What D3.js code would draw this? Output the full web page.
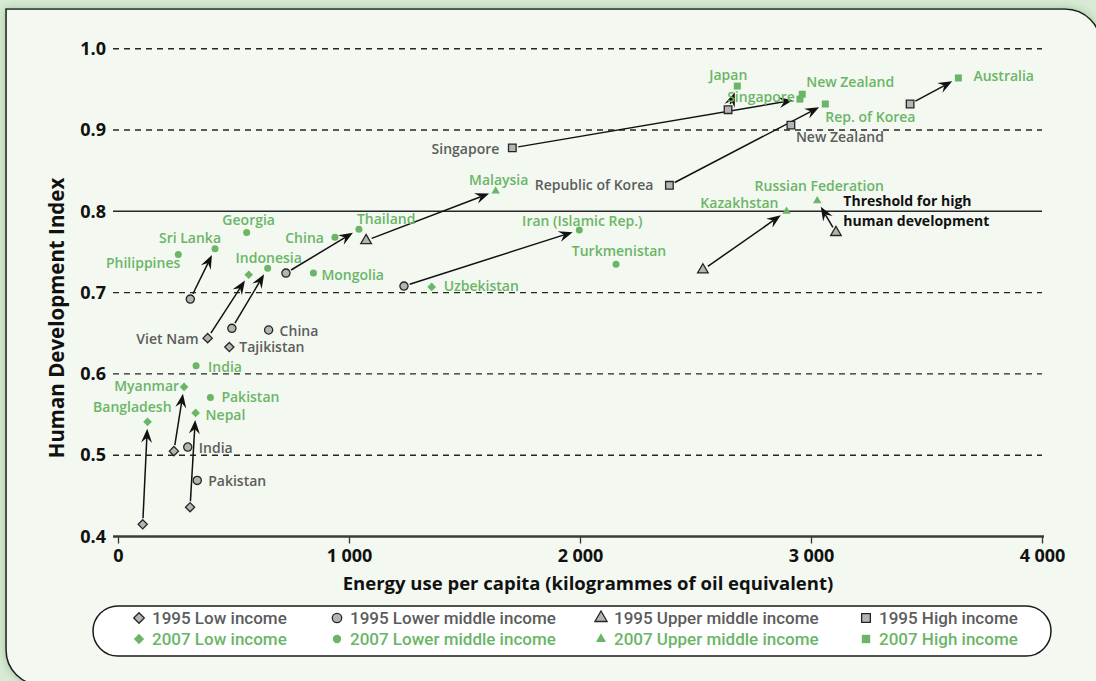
<!DOCTYPE html>
<html><head><meta charset="utf-8">
<script src="https://cdn.jsdelivr.net/npm/d3@7"></script>
<style>body{margin:0;background:#fff}svg{display:block}</style>
</head><body><svg id="c" width="1096" height="681"></svg>
<script>
// ---------- data ----------
const xTicks = [0, 1000, 2000, 3000, 4000];
const xTickLabels = ["0", "1\u2005000", "2\u2005000", "3\u2005000", "4\u2005000"];
const yTicks = [0.4, 0.5, 0.6, 0.7, 0.8, 0.9, 1.0];
const yTickLabels = ["0.4", "0.5", "0.6", "0.7", "0.8", "0.9", "1.0"];
const threshold = 0.8;

const low1995 = [
  {country: "Bangladesh", energy: 107, hdi: 0.415, label: null},
  {country: "Myanmar", energy: 242, hdi: 0.505, label: null},
  {country: "Nepal", energy: 312, hdi: 0.436, label: null},
  {country: "Viet Nam", energy: 388, hdi: 0.644, label: "Viet Nam"},
  {country: "Tajikistan", energy: 482, hdi: 0.633, label: "Tajikistan"}
];
const low2007 = [
  {country: "Bangladesh", energy: 128, hdi: 0.541, label: "Bangladesh"},
  {country: "Myanmar", energy: 286, hdi: 0.584, label: "Myanmar"},
  {country: "Nepal", energy: 336, hdi: 0.552, label: "Nepal"},
  {country: "Viet Nam", energy: 566, hdi: 0.722, label: null},
  {country: "Uzbekistan", energy: 1358, hdi: 0.707, label: "Uzbekistan"}
];
const lowerMid1995 = [
  {country: "India", energy: 302, hdi: 0.510, label: "India"},
  {country: "Pakistan", energy: 343, hdi: 0.469, label: "Pakistan"},
  {country: "Sri Lanka", energy: 313, hdi: 0.692, label: null},
  {country: "Indonesia", energy: 493, hdi: 0.656, label: null},
  {country: "China", energy: 652, hdi: 0.654, label: "China"},
  {country: "Thailand", energy: 727, hdi: 0.724, label: null},
  {country: "Iran", energy: 1238, hdi: 0.708, label: null}
];
const lowerMid2007 = [
  {country: "India", energy: 338, hdi: 0.610, label: "India"},
  {country: "Pakistan", energy: 400, hdi: 0.571, label: "Pakistan"},
  {country: "Philippines", energy: 261, hdi: 0.747, label: "Philippines"},
  {country: "Sri Lanka", energy: 420, hdi: 0.754, label: "Sri Lanka"},
  {country: "Georgia", energy: 557, hdi: 0.774, label: "Georgia"},
  {country: "Indonesia", energy: 648, hdi: 0.730, label: "Indonesia"},
  {country: "Mongolia", energy: 846, hdi: 0.724, label: "Mongolia"},
  {country: "China", energy: 939, hdi: 0.768, label: "China"},
  {country: "Thailand", energy: 1043, hdi: 0.778, label: "Thailand"},
  {country: "Iran", energy: 1997, hdi: 0.777, label: "Iran (Islamic Rep.)"},
  {country: "Turkmenistan", energy: 2156, hdi: 0.735, label: "Turkmenistan"}
];
const upperMid1995 = [
  {country: "Malaysia", energy: 1074, hdi: 0.764, label: null},
  {country: "Kazakhstan", energy: 2532, hdi: 0.728, label: null},
  {country: "Russian Federation", energy: 3108, hdi: 0.774, label: null}
];
const upperMid2007 = [
  {country: "Malaysia", energy: 1635, hdi: 0.825, label: "Malaysia"},
  {country: "Kazakhstan", energy: 2894, hdi: 0.800, label: "Kazakhstan"},
  {country: "Russian Federation", energy: 3027, hdi: 0.813, label: "Russian Federation"}
];
const high1995 = [
  {country: "Singapore", energy: 1707, hdi: 0.878, label: "Singapore"},
  {country: "Republic of Korea", energy: 2387, hdi: 0.832, label: "Republic of Korea"},
  {country: "Japan", energy: 2641, hdi: 0.925, label: null},
  {country: "New Zealand", energy: 2913, hdi: 0.906, label: "New Zealand"},
  {country: "Australia", energy: 3429, hdi: 0.932, label: null}
];
const high2007 = [
  {country: "Japan", energy: 2681, hdi: 0.954, label: "Japan"},
  {country: "Singapore", energy: 2952, hdi: 0.938, label: "Singapore"},
  {country: "New Zealand", energy: 2962, hdi: 0.944, label: "New Zealand"},
  {country: "Republic of Korea", energy: 3062, hdi: 0.932, label: "Rep. of Korea"},
  {country: "Australia", energy: 3638, hdi: 0.964, label: "Australia"}
];
// arrows: [country, group]
const arrowPairs = [
  ["Bangladesh", "low"], ["Myanmar", "low"], ["Nepal", "low"], ["Viet Nam", "low"],
  ["Sri Lanka", "lowerMid"], ["Indonesia", "lowerMid"], ["Thailand", "lowerMid"], ["Iran", "lowerMid"],
  ["Malaysia", "upperMid"], ["Kazakhstan", "upperMid"], ["Russian Federation", "upperMid"],
  ["Singapore", "high"], ["Japan", "high"], ["Republic of Korea", "high"], ["Australia", "high"]
];
const legendLabels = [
  ["1995 Low income", "2007 Low income"],
  ["1995 Lower middle income", "2007 Lower middle income"],
  ["1995 Upper middle income", "2007 Upper middle income"],
  ["1995 High income", "2007 High income"]
];
const xTitle = "Energy use per capita (kilogrammes of oil equivalent)";
const yTitle = "Human Development Index";
const thresholdText = ["Threshold for high", "human development"];

// ---------- layout / style ----------
const GREEN = "#6bb567", GREY_TXT = "#5c5c5c", GREY_FILL = "#b4b4b4", DARK = "#262626";
const FONT = "'Open Sans', 'DejaVu Sans', sans-serif";
const LEG_FONT = "Roboto, 'Open Sans', sans-serif";
const labelLayout = {
  "1995|Viet Nam": ["end", -9, 6], "1995|Tajikistan": ["start", 10, 5], "1995|China": ["start", 11, 6],
  "1995|India": ["start", 11, 6], "1995|Pakistan": ["start", 11, 6], "1995|Singapore": ["end", -13, 6],
  "1995|Republic of Korea": ["end", -16, 5], "1995|New Zealand": ["start", 5, 17],
  "2007|Bangladesh": ["end", 24, -10], "2007|Myanmar": ["end", -5, 4], "2007|Nepal": ["start", 10, 7],
  "2007|Uzbekistan": ["start", 12, 4], "2007|India": ["start", 12, 6], "2007|Pakistan": ["start", 11, 5],
  "2007|Philippines": ["end", 2, 14], "2007|Sri Lanka": ["end", 6, -6], "2007|Georgia": ["middle", 2, -7],
  "2007|Indonesia": ["middle", 1, -5], "2007|Mongolia": ["start", 8, 7], "2007|China": ["end", -11, 6],
  "2007|Thailand": ["start", -2, -5], "2007|Iran": ["middle", 3, -4], "2007|Turkmenistan": ["middle", 3, -8],
  "2007|Malaysia": ["middle", 3, -6], "2007|Kazakhstan": ["end", -8, -3], "2007|Russian Federation": ["middle", 2, -10],
  "2007|Japan": ["end", 10, -6], "2007|Singapore": ["end", -5, 3], "2007|New Zealand": ["start", 4, -7],
  "2007|Republic of Korea": ["start", 0, 18], "2007|Australia": ["start", 15, 3]
};

const svg = d3.select("#c");
const W = 1096, H = 681;
const x = d3.scaleLinear().domain([0, 4000]).range([118, 1042]);
const y = d3.scaleLinear().domain([0.4, 1.0]).range([536.5, 48.7]);

// background + panel
const defs = svg.append("defs");
const f = defs.append("filter").attr("id", "sh").attr("x", "-5%").attr("y", "-5%").attr("width", "110%").attr("height", "110%");
f.append("feDropShadow").attr("dx", 0).attr("dy", 0).attr("stdDeviation", 5).attr("flood-color", "#8fbf88").attr("flood-opacity", 0.8);
svg.append("rect").attr("width", W).attr("height", H).attr("fill", "#d9eAd6");
const L = 6, T = 9, R = 1101, B = 685, r1 = 36, r2 = 35;
svg.append("path")
  .attr("d", `M${L},${T} L${R - r1},${T} A${r1},${r1} 0 0 1 ${R},${T + r1} L${R},${B} L${L + r2},${B} A${r2},${r2} 0 0 1 ${L},${B - r2} Z`)
  .attr("fill", "#f3f8f1").attr("stroke", "#1c1c1c").attr("stroke-width", 1.6).attr("filter", "url(#sh)");

// gridlines
const gx0 = 113, gx1 = 1042;
svg.append("g").selectAll("line").data(yTicks.filter(v => v > 0.4)).join("line")
  .attr("x1", gx0).attr("x2", gx1).attr("y1", d => y(d)).attr("y2", d => y(d))
  .attr("stroke", DARK).attr("stroke-width", 1.4)
  .attr("stroke-dasharray", d => Math.abs(d - threshold) < 1e-9 ? null : "6,5");

// x axis
const xAxis = d3.axisBottom(x).tickValues(xTicks).tickFormat((d, i) => xTickLabels[i]).tickSize(7).tickPadding(6);
const gX = svg.append("g").attr("transform", `translate(0,${y(0.4)})`).call(xAxis);
gX.select(".domain").remove();
gX.selectAll(".tick line").attr("stroke", "#333").attr("stroke-width", 1.3);
gX.selectAll(".tick text").attr("font-family", FONT).attr("font-weight", 700).attr("font-size", 18).attr("fill", "#111");
svg.append("line").attr("x1", gx0).attr("x2", gx1 + 2).attr("y1", y(0.4)).attr("y2", y(0.4))
  .attr("stroke", "#3a3a3a").attr("stroke-width", 2.4);

// y axis labels
const yAxis = d3.axisLeft(y).tickValues(yTicks).tickFormat((d, i) => yTickLabels[i]).tickSize(0).tickPadding(7);
const gY = svg.append("g").attr("transform", `translate(${gx0},0)`).call(yAxis);
gY.select(".domain").remove();
gY.selectAll(".tick text").attr("font-family", FONT).attr("font-weight", 700).attr("font-size", 18).attr("fill", "#111");

// axis titles
svg.append("text").attr("x", 588).attr("y", 590).attr("text-anchor", "middle")
  .attr("font-family", FONT).attr("font-weight", 700).attr("font-size", 18.5).attr("fill", "#111").text(xTitle);
svg.append("text").attr("transform", `translate(64,${318}) rotate(-90)`).attr("text-anchor", "middle")
  .attr("font-family", FONT).attr("font-weight", 700).attr("font-size", 20.5).attr("fill", "#111").text(yTitle);

// symbols
function shape(group, s) {
  if (group === "low") return `M0,${-s}L${s},0L0,${s}L${-s},0Z`;
  if (group === "lowerMid") return d3.symbol(d3.symbolCircle, Math.PI * s * s)();
  if (group === "upperMid") { const h = s * 1.732; return `M0,${-h * 2 / 3}L${s},${h / 3}L${-s},${h / 3}Z`; }
  return `M${-s},${-s}H${s}V${s}H${-s}Z`;
}
const sizes1995 = {low: 4.6, lowerMid: 4.1, upperMid: 5.3, high: 3.8};
const sizes2007 = {low: 4.3, lowerMid: 3.5, upperMid: 4.2, high: 3.5};

const series = [
  {year: 1995, group: "low", data: low1995}, {year: 2007, group: "low", data: low2007},
  {year: 1995, group: "lowerMid", data: lowerMid1995}, {year: 2007, group: "lowerMid", data: lowerMid2007},
  {year: 1995, group: "upperMid", data: upperMid1995}, {year: 2007, group: "upperMid", data: upperMid2007},
  {year: 1995, group: "high", data: high1995}, {year: 2007, group: "high", data: high2007}
];
const find = (year, group, c) => series.find(s => s.year === year && s.group === group).data.find(d => d.country === c);

// arrows
const gA = svg.append("g");
arrowPairs.forEach(([c, g]) => {
  const a = find(1995, g, c), b = find(2007, g, c);
  const x0 = x(a.energy), y0 = y(a.hdi), x1 = x(b.energy), y1 = y(b.hdi);
  const len = Math.hypot(x1 - x0, y1 - y0), ux = (x1 - x0) / len, uy = (y1 - y0) / len, nx = -uy, ny = ux;
  const sx = x0 + ux * 6, sy = y0 + uy * 6, ex = x1 - ux * 7, ey = y1 - uy * 7;
  const hl = 14, hw = 5.5, notch = 9;
  gA.append("line").attr("x1", sx).attr("y1", sy).attr("x2", ex - ux * notch).attr("y2", ey - uy * notch)
    .attr("stroke", "#111").attr("stroke-width", 1.5);
  gA.append("path")
    .attr("d", `M${ex},${ey}L${ex - ux * hl + nx * hw},${ey - uy * hl + ny * hw}L${ex - ux * notch},${ey - uy * notch}L${ex - ux * hl - nx * hw},${ey - uy * hl - ny * hw}Z`)
    .attr("fill", "#111");
});

// markers
series.forEach(s => {
  svg.append("g").selectAll("path").data(s.data).join("path")
    .attr("transform", d => `translate(${x(d.energy)},${y(d.hdi)})`)
    .attr("d", shape(s.group, s.year === 1995 ? sizes1995[s.group] : sizes2007[s.group]))
    .attr("fill", s.year === 1995 ? GREY_FILL : GREEN)
    .attr("stroke", s.year === 1995 ? DARK : "none").attr("stroke-width", 1.3);
});

// labels
series.forEach(s => {
  svg.append("g").selectAll("text").data(s.data.filter(d => d.label)).join("text")
    .each(function (d) {
      const lay = labelLayout[s.year + "|" + d.country];
      d3.select(this).attr("x", x(d.energy) + lay[1]).attr("y", y(d.hdi) + lay[2]).attr("text-anchor", lay[0]);
    })
    .attr("font-family", FONT).attr("font-weight", 600).attr("font-size", 14)
    .attr("fill", s.year === 1995 ? GREY_TXT : GREEN).text(d => d.label);
});

// threshold annotation
svg.append("g").selectAll("text").data(thresholdText).join("text")
  .attr("x", x(3140)).attr("y", (d, i) => y(threshold) - 5 + i * 20)
  .attr("font-family", FONT).attr("font-weight", 700).attr("font-size", 14).attr("fill", "#111").text(d => d);

// legend
const lg = svg.append("g");
lg.append("rect").attr("x", 93).attr("y", 606).attr("width", 958).attr("height", 50).attr("rx", 25)
  .attr("fill", "#fff").attr("stroke", "#1a1a1a").attr("stroke-width", 1.5);
const groups = ["low", "lowerMid", "upperMid", "high"];
const legX = [139, 337, 601, 866];
groups.forEach((g, i) => {
  [1995, 2007].forEach((yr, j) => {
    const cy = 618 + j * 21;
    lg.append("path").attr("transform", `translate(${legX[i]},${cy})`)
      .attr("d", shape(g, yr === 1995 ? sizes1995[g] * 1.15 : sizes2007[g] * 1.2))
      .attr("fill", yr === 1995 ? GREY_FILL : GREEN).attr("stroke", yr === 1995 ? DARK : "none").attr("stroke-width", 1.3);
    lg.append("text").attr("x", legX[i] + 13).attr("y", cy + 6)
      .attr("font-family", LEG_FONT).attr("font-weight", 500).attr("font-size", 17)
      .attr("fill", yr === 1995 ? GREY_TXT : GREEN).text(legendLabels[i][j]);
  });
});
</script></body></html>
